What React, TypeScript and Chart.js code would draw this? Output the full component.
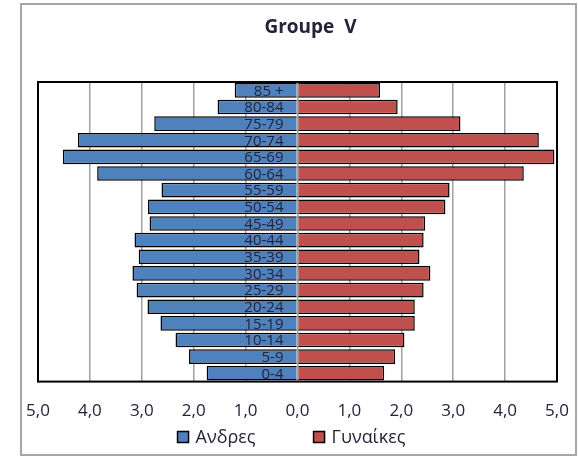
import React, { useEffect, useRef } from "react";
import { Chart, registerables } from "chart.js";

Chart.register(...registerables);

const chartTitle = "Groupe  V";
const ageGroups = ["0-4", "5-9", "10-14", "15-19", "20-24", "25-29", "30-34", "35-39", "40-44", "45-49", "50-54", "55-59", "60-64", "65-69", "70-74", "75-79", "80-84", "85 +"];
const menValues = [1.75, 2.09, 2.35, 2.64, 2.89, 3.1, 3.18, 3.06, 3.14, 2.85, 2.88, 2.62, 3.86, 4.52, 4.23, 2.76, 1.54, 1.21];
const womenValues = [1.67, 1.88, 2.06, 2.26, 2.26, 2.43, 2.56, 2.35, 2.43, 2.46, 2.85, 2.93, 4.36, 4.95, 4.65, 3.14, 1.93, 1.59];
const seriesNames = ["Ανδρες", "Γυναίκες"];
const axisMin = -5;
const axisMax = 5;

const TEXT = "#23233a";
const FONT = "'Open Sans', 'Noto Sans', sans-serif";

const decorPlugin = {
  id: "decor",
  beforeDraw(chart: any) {
    const { ctx, width, height } = chart;
    ctx.save();
    ctx.fillStyle = "#ffffff";
    ctx.fillRect(0, 0, width, height);
    ctx.strokeStyle = "#a6a6a6";
    ctx.lineWidth = 2;
    ctx.strokeRect(21, 4, 555, 451);
    ctx.restore();
  },
  afterDatasetsDraw(chart: any) {
    const { ctx, chartArea } = chart;
    const xs = chart.scales.x;
    const ys = chart.scales.y;
    ctx.save();
    ctx.strokeStyle = "#000000";
    ctx.lineWidth = 2;
    ctx.strokeRect(chartArea.left, chartArea.top, chartArea.right - chartArea.left, chartArea.bottom - chartArea.top);
    ctx.fillStyle = TEXT;
    ctx.font = `15px ${FONT}`;
    ctx.textAlign = "right";
    ctx.textBaseline = "middle";
    const x0 = xs.getPixelForValue(0);
    (chart.data.labels as string[]).forEach((lab, i) => {
      ctx.fillText(lab, x0 - 14, ys.getPixelForValue(i) + 1);
    });
    ctx.restore();
  },
  afterDraw(chart: any) {
    const { ctx, chartArea } = chart;
    const cx = (chartArea.left + chartArea.right) / 2;
    ctx.save();
    ctx.fillStyle = TEXT;
    ctx.font = `bold 19px ${FONT}`;
    ctx.textAlign = "center";
    ctx.textBaseline = "middle";
    ctx.fillText(chartTitle, cx + 13, 28);
    ctx.font = `18px ${FONT}`;
    ctx.textAlign = "left";
    const ds = chart.data.datasets;
    const box = 11;
    const gapText = 7;
    const gapItems = 58;
    const widths = ds.map((d: any) => box + gapText + ctx.measureText(d.label).width);
    const total = widths.reduce((a: number, b: number) => a + b, 0) + gapItems * (ds.length - 1);
    let x = cx - 6 - total / 2;
    const y = 437;
    ds.forEach((d: any, i: number) => {
      ctx.fillStyle = d.backgroundColor;
      ctx.fillRect(x, y - box / 2, box, box);
      ctx.strokeStyle = "#000000";
      ctx.lineWidth = 1.5;
      ctx.strokeRect(x, y - box / 2, box, box);
      ctx.fillStyle = TEXT;
      ctx.fillText(d.label, x + box + gapText, y + 1);
      x += widths[i] + gapItems;
    });
    ctx.restore();
  },
};

export default function App() {
  const ref = useRef<HTMLCanvasElement>(null);
  useEffect(() => {
    if (!ref.current) return;
    const chart = new Chart(ref.current, {
      type: "bar",
      data: {
        labels: ageGroups,
        datasets: [
          {
            label: seriesNames[0],
            data: menValues.map((v) => -v),
            backgroundColor: "#4f81bd",
            borderColor: "#000000",
            borderWidth: 1.5,
            barPercentage: 0.88,
            categoryPercentage: 1,
          },
          {
            label: seriesNames[1],
            data: womenValues,
            backgroundColor: "#c0504d",
            borderColor: "#000000",
            borderWidth: 1.5,
            barPercentage: 0.88,
            categoryPercentage: 1,
          },
        ],
      },
      options: {
        indexAxis: "y",
        responsive: false,
        animation: false,
        layout: { padding: { left: 38, right: 21, top: 82, bottom: 18 } },
        plugins: {
          legend: { display: false },
          title: { display: false },
          tooltip: { enabled: false },
        },
        scales: {
          x: {
            stacked: true,
            min: axisMin,
            max: axisMax,
            afterFit: (scale: any) => {
              scale.paddingLeft = 0;
              scale.paddingRight = 0;
            },
            grid: { color: "#a0a0a0", lineWidth: 1.5, drawTicks: false },
            border: { display: false },
            ticks: {
              stepSize: 1,
              padding: 19,
              color: TEXT,
              font: { family: FONT, size: 17 },
              callback: (v: any) => Math.abs(Number(v)).toFixed(1).replace(".", ","),
            },
          },
          y: {
            stacked: true,
            reverse: true,
            display: false,
          },
        },
      },
      plugins: [decorPlugin],
    });
    return () => chart.destroy();
  }, []);
  return (
    <div style={{ position: "fixed", left: 0, top: 0, width: 578, height: 458 }}>
      <canvas ref={ref} width={578} height={458} style={{ display: "block" }} />
    </div>
  );
}
